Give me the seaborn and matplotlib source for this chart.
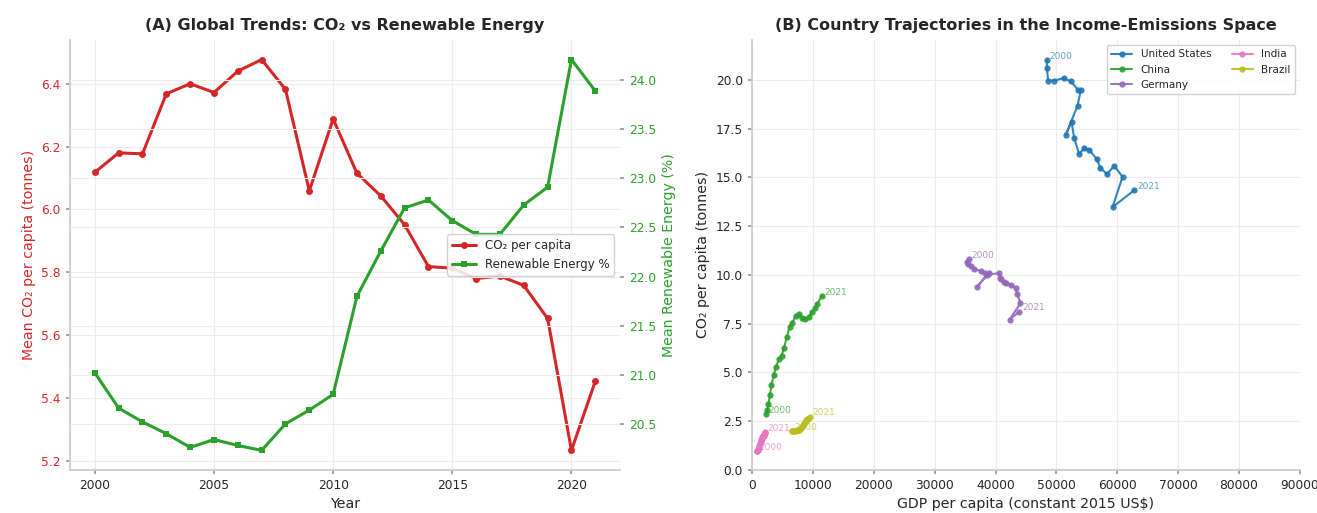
import matplotlib
matplotlib.use("Agg")
import matplotlib.pyplot as plt
import seaborn as sns
import pandas as pd

# ---- Panel A: global annual means ----
years = [2000, 2001, 2002, 2003, 2004, 2005, 2006, 2007, 2008, 2009, 2010,
         2011, 2012, 2013, 2014, 2015, 2016, 2017, 2018, 2019, 2020, 2021]
co2_mean = [6.118, 6.180, 6.177, 6.368, 6.400, 6.372, 6.440, 6.477, 6.382, 6.059, 6.288,
            6.115, 6.043, 5.951, 5.818, 5.813, 5.780, 5.788, 5.758, 5.653, 5.233, 5.453]
renew_mean = [21.02, 20.66, 20.52, 20.40, 20.26, 20.34, 20.28, 20.23, 20.50, 20.64, 20.80,
              21.80, 22.26, 22.70, 22.78, 22.57, 22.43, 22.43, 22.73, 22.91, 24.21, 23.89]

# ---- Panel B: country trajectories (GDP per capita, CO2 per capita) ----
countries = ["United States", "China", "Germany", "India", "Brazil"]
us_gdp = [48430, 48450, 48640, 49630, 51180, 52370, 53580, 54020, 53480, 51550, 52490,
          52920, 53740, 54560, 55380, 56650, 57190, 58290, 59490, 60870, 59230, 62780]
us_co2 = [21.03, 20.62, 19.97, 19.97, 20.09, 19.93, 19.49, 19.49, 18.68, 17.19, 17.87,
          17.02, 16.20, 16.51, 16.42, 15.94, 15.51, 15.17, 15.59, 15.04, 13.48, 14.34]
china_gdp = [2300, 2500, 2700, 2950, 3200, 3550, 3950, 4450, 4850, 5250, 5700,
             6200, 6650, 7150, 7700, 8250, 8750, 9300, 9850, 10400, 10700, 11450]
china_co2 = [2.85, 3.05, 3.40, 3.85, 4.35, 4.85, 5.30, 5.70, 5.85, 6.25, 6.80,
             7.35, 7.55, 7.90, 7.98, 7.80, 7.75, 7.85, 8.10, 8.30, 8.50, 8.92]
germany_gdp = [35600, 35300, 35500, 35900, 36500, 37600, 38200, 38700, 38900, 37000, 38600,
               40600, 40800, 40900, 41400, 41800, 42500, 43300, 43600, 44100, 42300, 43900]
germany_co2 = [10.80, 10.65, 10.55, 10.45, 10.30, 10.20, 10.10, 10.04, 10.10, 9.40, 10.00,
               10.10, 9.85, 9.80, 9.62, 9.58, 9.50, 9.35, 9.00, 8.55, 7.70, 8.12]
india_gdp = [820, 840, 860, 920, 980, 1050, 1120, 1200, 1220, 1300, 1410,
             1460, 1510, 1580, 1660, 1760, 1880, 1980, 2060, 2110, 1940, 2090]
india_co2 = [0.96, 0.97, 0.97, 1.00, 1.04, 1.08, 1.13, 1.20, 1.28, 1.37, 1.43,
             1.50, 1.58, 1.61, 1.70, 1.72, 1.76, 1.82, 1.90, 1.90, 1.75, 1.92]
brazil_gdp = [6500, 6650, 6800, 6950, 7100, 7250, 7400, 7550, 7700, 7650, 7900,
              8100, 8250, 8400, 8500, 8600, 8700, 8850, 8950, 9100, 9200, 9450]
brazil_co2 = [2.00, 1.99, 1.98, 2.00, 2.01, 2.02, 2.03, 2.04, 2.06, 2.03, 2.10,
              2.16, 2.22, 2.28, 2.34, 2.40, 2.45, 2.50, 2.56, 2.62, 2.60, 2.73]

sns.set_theme(style="whitegrid")
plt.rcParams["font.family"] = ["DejaVu Sans"]
plt.rcParams["grid.color"] = "#ececec"
plt.rcParams["grid.linewidth"] = 0.8
plt.rcParams["axes.edgecolor"] = "#cccccc"

RED = "#d62728"
GREEN = "#2ca02c"
tab = sns.color_palette("tab10", 10)
country_colors = dict(zip(countries, [tab[0], tab[2], tab[4], tab[6], tab[8]]))

TICK = 8.8
LABEL = 10.2
TITLE = 11.5

fig = plt.figure(figsize=(13.17, 5.13), dpi=100)
ax1 = fig.add_axes([0.053, 0.084, 0.418, 0.838])
axb = fig.add_axes([0.571, 0.084, 0.416, 0.838])

# ---- Panel A ----
df_a = pd.DataFrame({"Year": years, "co2": co2_mean, "renew": renew_mean})
sns.lineplot(data=df_a, x="Year", y="co2", ax=ax1, color=RED, marker="o",
             markersize=5, markeredgewidth=0, linewidth=2.2, label="CO₂ per capita")
ax2 = ax1.twinx()
sns.lineplot(data=df_a, x="Year", y="renew", ax=ax2, color=GREEN, marker="s",
             markersize=5, markeredgewidth=0, linewidth=2.2, label="Renewable Energy %")
for a in (ax1, ax2):
    if a.get_legend() is not None:
        a.get_legend().remove()

ax1.set_xlabel("Year", fontsize=LABEL)
ax1.set_ylabel("Mean CO₂ per capita (tonnes)", color=RED, fontsize=LABEL)
ax2.set_ylabel("Mean Renewable Energy (%)", color=GREEN, fontsize=LABEL)
ax1.tick_params(axis="y", labelcolor=RED, labelsize=TICK, left=True, length=3, color="#999999")
ax1.tick_params(axis="x", labelsize=TICK, bottom=True, length=3, color="#999999")
ax2.tick_params(axis="y", labelcolor=GREEN, labelsize=TICK, right=True, length=3, color="#999999")
ax1.set_xticks([2000, 2005, 2010, 2015, 2020])
ax1.set_yticks([5.2, 5.4, 5.6, 5.8, 6.0, 6.2, 6.4])
ax2.set_yticks([20.5, 21.0, 21.5, 22.0, 22.5, 23.0, 23.5, 24.0])
for s in ("top", "right"):
    ax1.spines[s].set_visible(False)
for s in ax2.spines.values():
    s.set_visible(False)
ax1.set_title("(A) Global Trends: CO₂ vs Renewable Energy", fontsize=TITLE,
              fontweight="bold", pad=7)

h1, l1 = ax1.get_legend_handles_labels()
h2, l2 = ax2.get_legend_handles_labels()
ax2.legend(h1 + h2, l1 + l2, loc="center right", fontsize=8.5, frameon=True,
           framealpha=0.85, edgecolor="#cccccc")

# ---- Panel B ----
series = {
    "United States": (us_gdp, us_co2),
    "China": (china_gdp, china_co2),
    "Germany": (germany_gdp, germany_co2),
    "India": (india_gdp, india_co2),
    "Brazil": (brazil_gdp, brazil_co2),
}
rows = []
for name in countries:
    gdp, co2 = series[name]
    for yr, g, c in zip(years, gdp, co2):
        rows.append({"country": name, "Year": yr, "gdp": g, "co2": c})
df_b = pd.DataFrame(rows)

sns.lineplot(data=df_b, x="gdp", y="co2", hue="country", hue_order=countries,
             palette=country_colors, sort=False, estimator=None, marker="o",
             markersize=4.5, markeredgewidth=0, linewidth=1.5, alpha=0.9, ax=axb)

for name in countries:
    sub = df_b[df_b["country"] == name]
    for yr in (years[0], years[-1]):
        row = sub[sub["Year"] == yr].iloc[0]
        axb.annotate(str(yr), (row["gdp"], row["co2"]), xytext=(2, 1),
                     textcoords="offset points", fontsize=6.5,
                     color=country_colors[name], alpha=0.7)

axb.set_xlim(0, 90000)
axb.set_ylim(0, 22.05)
axb.set_xticks([0, 10000, 20000, 30000, 40000, 50000, 60000, 70000, 80000, 90000])
axb.set_yticks([0.0, 2.5, 5.0, 7.5, 10.0, 12.5, 15.0, 17.5, 20.0])
axb.set_yticklabels(["0.0", "2.5", "5.0", "7.5", "10.0", "12.5", "15.0", "17.5", "20.0"])
axb.set_xlabel("GDP per capita (constant 2015 US$)", fontsize=LABEL)
axb.set_ylabel("CO₂ per capita (tonnes)", fontsize=LABEL)
axb.tick_params(labelsize=TICK, bottom=True, left=True, length=3, color="#999999")
for s in ("top", "right"):
    axb.spines[s].set_visible(False)
axb.set_title("(B) Country Trajectories in the Income-Emissions Space", fontsize=TITLE,
              fontweight="bold", pad=7)
axb.legend(title=None, loc="upper right", ncol=2, fontsize=7.5, frameon=True,
           framealpha=0.85, edgecolor="#cccccc")

fig.savefig("out.png", dpi=100)
